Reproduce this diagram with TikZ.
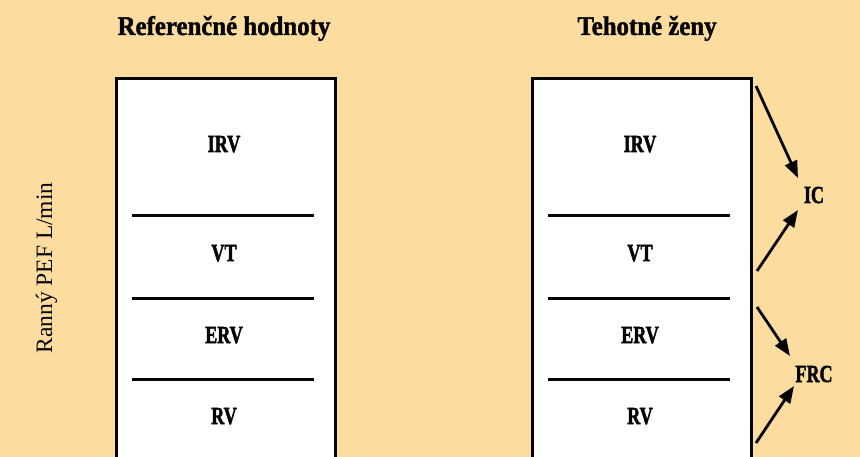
\documentclass[tikz,border=0pt]{standalone}
\usepackage{fontspec}
\setmainfont{Liberation Serif}
\newfontfamily\heavyfont{Liberation Serif Bold}[FakeBold=2.2]
\newfontfamily\titlefont{Liberation Serif Bold}[FakeBold=1.6]
\usetikzlibrary{arrows.meta}
\definecolor{peach}{RGB}{253,220,160}
\definecolor{ink}{RGB}{5,5,5}
\tikzset{
  titletext/.style={anchor=base, inner sep=0pt, font=\titlefont\fontsize{27}{27}\selectfont, text=ink},
  voltext/.style={anchor=base, inner sep=0pt, font=\heavyfont\fontsize{24.5}{25}\selectfont, text=ink},
  box/.style={draw=ink, line width=3pt, fill=white},
  divider/.style={draw=ink, line width=3pt},
  arr/.style={draw=ink, line width=2.8pt, -{Triangle[length=17pt,width=13pt]}}
}
\newcommand{\cond}[1]{\scalebox{0.74}[1]{#1}}
\newcommand{\tcond}[1]{\scalebox{0.92}[1]{#1}}
\begin{document}
\begin{tikzpicture}[x=1pt,y=-1pt]
\useasboundingbox (0,0) rectangle (860,457);
\clip (0,0) rectangle (860,457);
\fill[peach] (0,0) rectangle (860,457);
% titles
\node[titletext] (t1) at (224,35) {\tcond{Referenčné hodnoty}};
\node[titletext] (t2) at (647,35) {\tcond{Tehotné ženy}};
% side label
\node[anchor=base, inner sep=0pt, rotate=90, font=\fontsize{23.5}{24}\selectfont, text=ink] (side) at (52,268) {Ranný PEF L/min};
% boxes
\path[box] (116,470) -- (116,79) -- (335,79) -- (335,470);
\path[box] (532,470) -- (532,79) -- (751,79) -- (751,470);
% dividers
\foreach \yy in {216,299,379} {
  \draw[divider] (132,\yy) -- (314,\yy);
  \draw[divider] (548,\yy) -- (730,\yy);
}
% labels left
\node[voltext] (l1) at (224,152) {\cond{IRV}};
\node[voltext] (l2) at (224,261) {\cond{VT}};
\node[voltext] (l3) at (224,343) {\cond{ERV}};
\node[voltext] (l4) at (224,424) {\cond{RV}};
% labels right
\node[voltext] (r1) at (640,152) {\cond{IRV}};
\node[voltext] (r2) at (640,261) {\cond{VT}};
\node[voltext] (r3) at (640,343) {\cond{ERV}};
\node[voltext] (r4) at (640,424) {\cond{RV}};
% IC, FRC
\node[voltext] (ic) at (814,203) {\cond{IC}};
\node[voltext] (frc) at (814,382) {\cond{FRC}};
% arrow endpoints
\coordinate (a1s) at (756,86);
\coordinate (a1e) at (798,178);
\coordinate (a2s) at (757,271);
\coordinate (a2e) at (798,210);
\coordinate (a3s) at (757,307);
\coordinate (a3e) at (790,356);
\coordinate (a4s) at (756,443);
\coordinate (a4e) at (794,386);
\draw[arr] (a1s) -- (a1e);
\draw[arr] (a2s) -- (a2e);
\draw[arr] (a3s) -- (a3e);
\draw[arr] (a4s) -- (a4e);
\end{tikzpicture}
\end{document}
